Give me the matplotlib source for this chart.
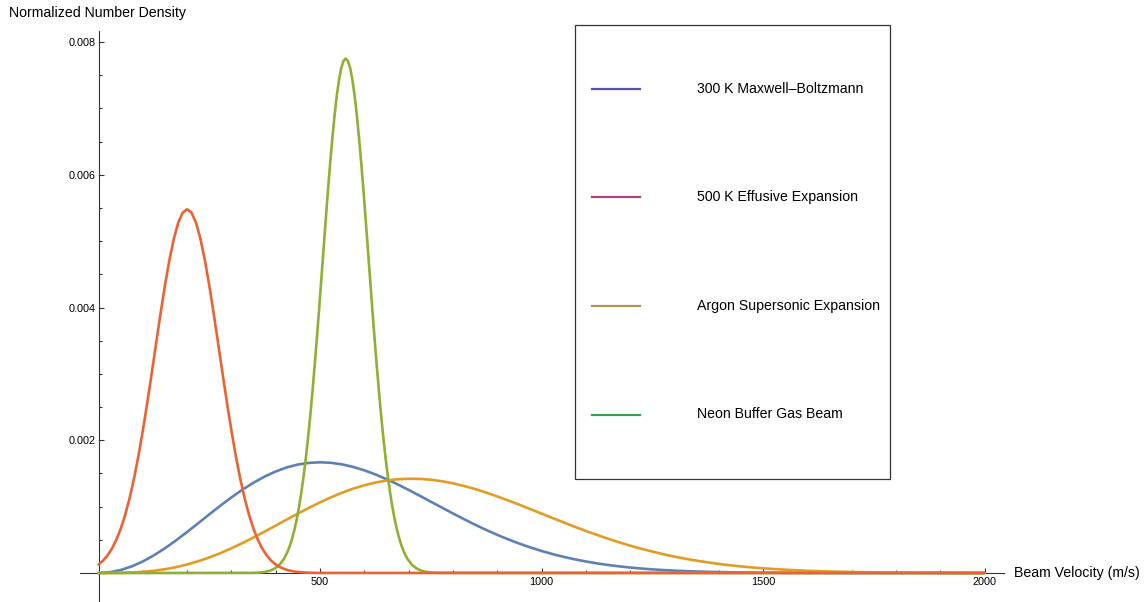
import numpy as np
import matplotlib.pyplot as plt
from matplotlib.patches import Rectangle
from matplotlib.lines import Line2D
from matplotlib.ticker import FixedLocator

plt.rcParams['font.family'] = ['Liberation Sans', 'DejaVu Sans']

# velocities (m/s) and normalized densities
v_mb = np.arange(0, 1501, 25).tolist() + [1550, 1600, 1650, 1700, 1750, 1800, 2000]
mb_300 = [0, 0.0000113, 0.0000449, 0.0000997, 0.000174, 0.000266, 0.000373, 0.000491,
          0.000618, 0.000750, 0.000883, 0.001014, 0.001139, 0.001256, 0.001361, 0.001453,
          0.001530, 0.001591, 0.001634, 0.001659, 0.001668, 0.001660, 0.001636, 0.001598,
          0.001547, 0.001485, 0.001414, 0.001336, 0.001252, 0.001164, 0.001075, 0.000986,
          0.000897, 0.000811, 0.000728, 0.000649, 0.000575, 0.000506, 0.000443, 0.000385,
          0.000332, 0.000285, 0.000243, 0.000206, 0.000174, 0.000145, 0.000121, 0.0001001,
          0.0000823, 0.0000673, 0.0000547, 0.0000442, 0.0000355, 0.0000284, 0.0000226,
          0.0000178, 0.0000140, 0.0000109, 0.0000085, 0.0000065, 0.0000050,
          0.0000029, 0.0000017, 0.0000009, 0.0000005, 0.0000003, 0.0000001, 0]

v_eff = np.arange(0, 1501, 25).tolist() + np.arange(1550, 2001, 50).tolist()
eff_500 = [0, 0.00000028, 0.00000224, 0.0000075, 0.0000175, 0.0000336, 0.0000569, 0.0000882,
           0.000128, 0.000177, 0.000234, 0.000299, 0.000372, 0.000451, 0.000535, 0.000624,
           0.000714, 0.000805, 0.000895, 0.000982, 0.001064, 0.001141, 0.001210, 0.001271,
           0.001322, 0.001363, 0.001393, 0.001412, 0.001420, 0.001418, 0.001405, 0.001383,
           0.001351, 0.001311, 0.001265, 0.001212, 0.001154, 0.001093, 0.001029, 0.000962,
           0.000895, 0.000828, 0.000762, 0.000697, 0.000634, 0.000574, 0.000517, 0.000463,
           0.000412, 0.000366, 0.000323, 0.000283, 0.000247, 0.000215, 0.000186, 0.000160,
           0.000137, 0.000117, 0.0000995, 0.0000840, 0.0000706,
           0.0000494, 0.0000339, 0.0000228, 0.0000151, 0.0000098, 0.0000063, 0.0000040,
           0.0000025, 0.0000015, 0.0000009]

v_ar = [0, 348, 358, 368, 378, 388, 398, 408] + np.arange(418, 699, 5).tolist() + \
       [708, 718, 728, 738, 748, 758, 768, 2000]
argon = [0, 0.0000022, 0.0000048, 0.0000098, 0.0000194, 0.0000370, 0.0000682, 0.000121,
         0.000207, 0.000267, 0.000340, 0.000431, 0.000541, 0.000672, 0.000827, 0.001009,
         0.00122, 0.001461, 0.00173, 0.002037, 0.00237, 0.002739, 0.00313, 0.003548,
         0.00398, 0.004430, 0.00488, 0.005330, 0.00577, 0.006179, 0.00656, 0.006904,
         0.00720, 0.007434, 0.00761, 0.007714, 0.00775,
         0.007714, 0.00761, 0.007434, 0.00720, 0.006904, 0.00656, 0.006179, 0.00577,
         0.005330, 0.00488, 0.004430, 0.00398, 0.003548, 0.00313, 0.002739, 0.00237,
         0.002037, 0.00173, 0.001461, 0.00122, 0.001009, 0.000827, 0.000672, 0.000541,
         0.000431, 0.000340, 0.000267, 0.000207,
         0.000121, 0.0000682, 0.0000370, 0.0000194, 0.0000098, 0.0000048, 0.0000022, 0]

v_ne = np.arange(0, 501, 10).tolist() + [2000]
neon = [0.000128, 0.000185, 0.000262, 0.000364, 0.000496, 0.000664, 0.000871, 0.001122,
        0.001419, 0.001761, 0.002144, 0.002563, 0.003006, 0.003460, 0.003909, 0.004334,
        0.004716, 0.005036, 0.005278, 0.005429, 0.00548, 0.005429, 0.005278, 0.005036,
        0.004716, 0.004334, 0.003909, 0.003460, 0.003006, 0.002563, 0.002144, 0.001761,
        0.001419, 0.001122, 0.000871, 0.000664, 0.000496, 0.000364, 0.000262, 0.000185,
        0.000128, 0.0000875, 0.0000584, 0.0000383, 0.0000246, 0.0000156, 0.0000096,
        0.0000059, 0.0000035, 0.000002, 0.000001, 0]

labels = ['300 K Maxwell\u2013Boltzmann', '500 K Effusive Expansion',
          'Argon Supersonic Expansion', 'Neon Buffer Gas Beam']
legend_colors = ['#5252a8', '#a8457c', '#a89a5a', '#3c9c58']

W, H = 1144, 602
fig = plt.figure(figsize=(W / 100, H / 100), dpi=100)
ax = fig.add_axes([80 / W, 0, (1004 - 80) / W, 1 - 31 / H])

style = dict(lw=1.9, zorder=3, solid_joinstyle='round', solid_capstyle='round')
ax.plot(v_mb, mb_300, color='#5e81b5', **style)
ax.plot(v_eff, eff_500, color='#e19c24', **style)
ax.plot(v_ar, argon, color='#8fb032', **style)
ax.plot(v_ne, neon, color='#eb6235', **style)

ax.set_xlim(-41.8, 2044)
ax.set_ylim(-0.000437, 0.008166)

for s in ['top', 'right']:
    ax.spines[s].set_visible(False)
ax.spines['left'].set_position(('data', 0))
ax.spines['bottom'].set_position(('data', 0))
for s in ['left', 'bottom']:
    ax.spines[s].set_color('#333333')
    ax.spines[s].set_linewidth(0.8)

ax.xaxis.set_major_locator(FixedLocator([500, 1000, 1500, 2000]))
ax.xaxis.set_minor_locator(FixedLocator([x for x in range(100, 2001, 100) if x % 500]))
ax.yaxis.set_major_locator(FixedLocator([0.002, 0.004, 0.006, 0.008]))
ax.yaxis.set_minor_locator(FixedLocator([y / 10000 for y in range(5, 81, 5) if y % 20]))
ax.set_xticklabels(['500', '1000', '1500', '2000'])
ax.set_yticklabels(['0.002', '0.004', '0.006', '0.008'])
ax.tick_params(which='both', direction='in', color='#333333', labelsize=7.8, width=0.8)
ax.tick_params(which='major', length=3.8)
ax.tick_params(which='minor', length=2.2)
ax.tick_params(axis='x', pad=3)
ax.tick_params(axis='y', pad=2)

fig.text(9 / W, 1 - 13 / H, 'Normalized Number Density', fontsize=10.2, ha='left', va='center')
fig.text(1014 / W, 1 - 573 / H, 'Beam Velocity (m/s)', fontsize=10.2, ha='left', va='center')

# legend box
fig.add_artist(Rectangle((575 / W, 1 - 479 / H), (890 - 575) / W, (479 - 25) / H,
                         transform=fig.transFigure, fill=False, ec='#333333', lw=0.9))
for i, (lab, col) in enumerate(zip(labels, legend_colors)):
    yy = 1 - [89, 197, 306, 414.5][i] / H
    fig.add_artist(Line2D([592 / W, 640 / W], [yy, yy], transform=fig.transFigure,
                          color=col, lw=1.6))
    fig.text(697 / W, yy, lab, fontsize=10.2, ha='left', va='center')

fig.savefig('out.png', dpi=100)
